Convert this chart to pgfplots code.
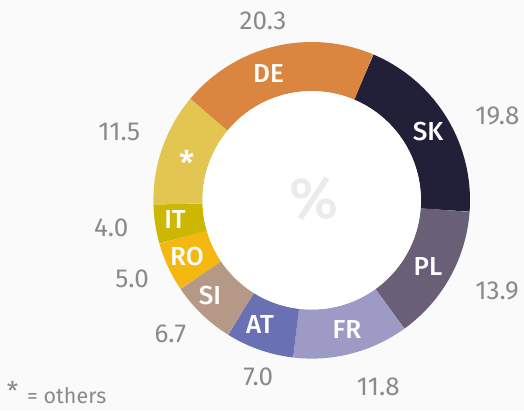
\documentclass[border=0pt]{standalone}
\usepackage{pgfplots}
\pgfplotsset{compat=1.18}
\usepackage{pgfplotstable}
\usepackage{fontspec}
\setmainfont{Fira Sans}[BoldFont={Fira Sans Medium}]
\definecolor{bgcol}{HTML}{FAFAFA}
\definecolor{cSK}{HTML}{221F38}
\definecolor{cPL}{HTML}{695F77}
\definecolor{cFR}{HTML}{9E9AC6}
\definecolor{cAT}{HTML}{6A70B4}
\definecolor{cSI}{HTML}{B59886}
\definecolor{cRO}{HTML}{F5B811}
\definecolor{cIT}{HTML}{CDB702}
\definecolor{cOT}{HTML}{E3C552}
\definecolor{cDE}{HTML}{DB8640}
\definecolor{valgray}{HTML}{8A8A8A}
\definecolor{pctgray}{HTML}{EBEBEB}

% slices in clockwise order, starting at 67.1 degrees
\pgfplotstableread{
label value color
SK 19.8 cSK
PL 13.9 cPL
FR 11.8 cFR
AT 7.0 cAT
SI 6.7 cSI
RO 5.0 cRO
IT 4.0 cIT
OT 11.5 cOT
DE 20.3 cDE
}\slices

\begin{document}
\begin{tikzpicture}
\begin{axis}[
  hide axis, scale only axis,
  width=524pt, height=410pt,
  xmin=0, xmax=524, ymin=0, ymax=410,
  y dir=reverse, clip=false,
]
\fill[bgcol] (axis cs:0,0) rectangle (axis cs:524,410);
\xdef\curang{67.1}
\pgfplotsforeachungrouped \i in {0,...,8} {
  \pgfplotstablegetelem{\i}{value}\of\slices \let\v\pgfplotsretval
  \pgfplotstablegetelem{\i}{color}\of\slices \let\c\pgfplotsretval
  \pgfmathsetmacro\endang{\curang-3.6*\v}
  \edef\tmp{\noexpand\addplot[draw=\c, line width=49.1pt, domain=\endang:\curang, samples=61, variable=\noexpand\t] ({311.7+133.75*cos(\noexpand\t)},{200.3-133.75*sin(\noexpand\t)});}
  \tmp
  \global\let\curang\endang
}
\fill[white] (axis cs:311.7,200.3) circle[radius=109.2pt];
\node[text=pctgray, font=\fontsize{58}{64}\selectfont\bfseries] at (axis cs:314,199) {\%};

% slice labels
\begin{scope}[every node/.style={text=white, font=\fontsize{26}{30}\selectfont\bfseries}]
\node at (axis cs:428,132) {SK};
\node at (axis cs:428,267) {PL};
\node at (axis cs:347,330) {FR};
\node at (axis cs:260,325) {AT};
\node at (axis cs:210,296) {SI};
\node at (axis cs:187,256.5) {RO};
\node at (axis cs:175,220) {IT};
\node[font=\fontsize{34}{36}\selectfont\bfseries] at (axis cs:186.7,163) {*};
\node at (axis cs:268.5,74) {DE};
\end{scope}

% value labels
\begin{scope}[every node/.style={text=valgray, font=\fontsize{26}{30}\selectfont}]
\node at (axis cs:497.5,116) {19.8};
\node at (axis cs:497,290.5) {13.9};
\node at (axis cs:378.3,387) {11.8};
\node at (axis cs:258.3,377) {7.0};
\node at (axis cs:170.3,334) {6.7};
\node at (axis cs:132,278.5) {5.0};
\node at (axis cs:111.3,227.7) {4.0};
\node at (axis cs:119.3,131.7) {11.5};
\node at (axis cs:263,20.5) {20.3};
\end{scope}

\node[text=valgray, font=\fontsize{26}{28}\selectfont] at (axis cs:12.5,391) {*};
\node[text=valgray, font=\fontsize{21.5}{24}\selectfont, anchor=base west, inner sep=0pt] at (axis cs:27,403) {= others};
\end{axis}
\end{tikzpicture}
\end{document}
